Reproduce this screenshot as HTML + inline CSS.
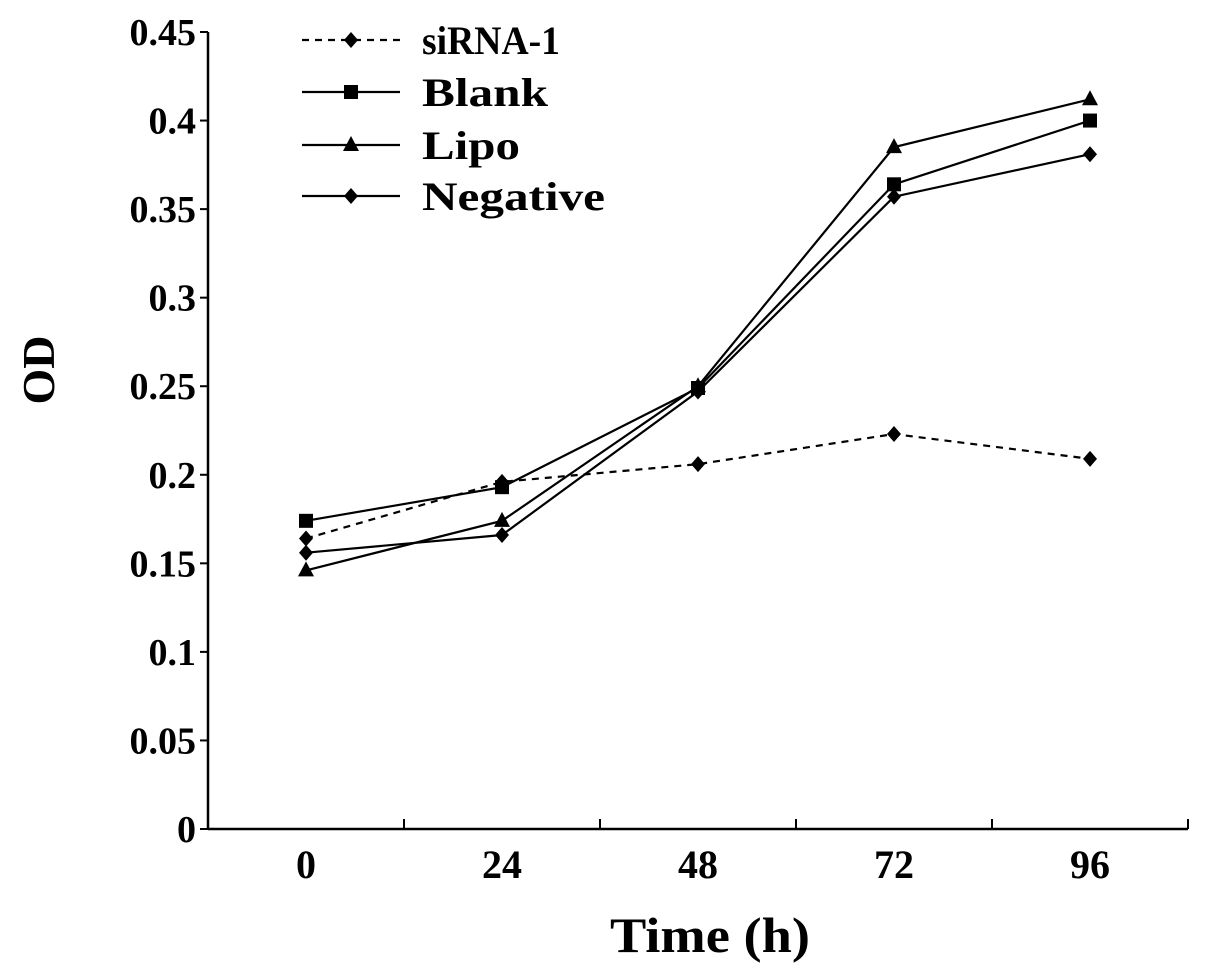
<!DOCTYPE html>
<html><head><meta charset="utf-8"><style>
body{margin:0;background:#fff;}
svg{display:block;font-family:"Liberation Serif",serif;font-weight:bold;}
</style></head><body>
<svg id="chart" width="1205" height="971" viewBox="0 0 1205 971" xmlns="http://www.w3.org/2000/svg">
<g id="axes"></g><g id="series"></g><g id="legend"></g>
<text x="0" y="0" transform="translate(54,370) rotate(-90)" text-anchor="middle" font-size="46">OD</text>
<text x="710" y="952" text-anchor="middle" font-size="50" textLength="200" lengthAdjust="spacingAndGlyphs">Time (h)</text>
</svg>
<script>
const categories=["0","24","48","72","96"];
const yTicks=[0,0.05,0.1,0.15,0.2,0.25,0.3,0.35,0.4,0.45];
const yTickLabels=["0","0.05","0.1","0.15","0.2","0.25","0.3","0.35","0.4","0.45"];
const seriesNames=["siRNA-1","Blank","Lipo","Negative"];
const siRNA1=[0.164,0.196,0.206,0.223,0.209];
const blank=[0.174,0.193,0.249,0.364,0.400];
const lipo=[0.146,0.174,0.250,0.385,0.412];
const negative=[0.156,0.166,0.247,0.357,0.381];
const NS="http://www.w3.org/2000/svg";
const x0=208,x1=1188,y0=829,y1=32;
const yS=v=>y0-(v/0.45)*(y0-y1);
const bw=(x1-x0)/categories.length;
const xS=i=>x0+bw*(i+0.5);
function mk(t,a,p){const e=document.createElementNS(NS,t);for(const k in a)e.setAttribute(k,a[k]);p.appendChild(e);return e;}
const axes=document.getElementById('axes');
let e=mk('line',{x1:x0,y1:y1,x2:x0,y2:y0,stroke:'#000','stroke-width':2.5},axes);


e=mk('line',{x1:x0,y1:y0,x2:x1,y2:y0,stroke:'#000','stroke-width':2.5},axes);


yTicks.forEach((v,i)=>{
 mk('line',{x1:x0-8,y1:yS(v),x2:x0,y2:yS(v),stroke:'#000','stroke-width':2},axes);
 const t=mk('text',{x:196,y:yS(v)+13,'text-anchor':'end','font-size':38},axes);
 t.textContent=yTickLabels[i];
 
 
});
for(let i=0;i<=categories.length;i++){mk('line',{x1:x0+bw*i,y1:y0,x2:x0+bw*i,y2:y0-10,stroke:'#000','stroke-width':2},axes);}
categories.forEach((c,i)=>{
 const t=mk('text',{x:xS(i),y:878,'text-anchor':'middle','font-size':40},axes);
 t.textContent=c;
 
 
});
function marker(kind,x,y,p){
 if(kind==='diamond')return mk('polygon',{points:`${x},${y-8} ${x+7},${y} ${x},${y+8} ${x-7},${y}`,fill:'#000'},p);
 if(kind==='square')return mk('rect',{x:x-7,y:y-7,width:14,height:14,fill:'#000'},p);
 return mk('polygon',{points:`${x},${y-9} ${x+8},${y+6} ${x-8},${y+6}`,fill:'#000'},p);
}
const allData=[siRNA1,blank,lipo,negative];
const kinds=['diamond','square','triangle','diamond'];
const dashes=['7,6','none','none','none'];
const sg=document.getElementById('series');
allData.forEach((d,s)=>{
 const g=mk('g',{},sg);
 
 
 const l=mk('polyline',{points:d.map((v,i)=>xS(i)+','+yS(v)).join(' '),fill:'none',stroke:'#000','stroke-width':2.2,'stroke-dasharray':dashes[s]},g);
 
 
 d.forEach((v,i)=>{const m=marker(kinds[s],xS(i),yS(v),g);
  
  });
});
const lg=document.getElementById('legend');
const ly=[40,92,145,196];
const lw=[138,126,98,183];
seriesNames.forEach((n,s)=>{
 const g=mk('g',{},lg);
 
 
 mk('line',{x1:302,y1:ly[s],x2:400,y2:ly[s],stroke:'#000','stroke-width':2.2,'stroke-dasharray':dashes[s]},g);
 marker(kinds[s],351,ly[s],g);
 const t=mk('text',{x:422,y:ly[s]+14,'font-size':40,textLength:lw[s],lengthAdjust:'spacingAndGlyphs'},g);
 t.textContent=n;
});
</script>
</body></html>
